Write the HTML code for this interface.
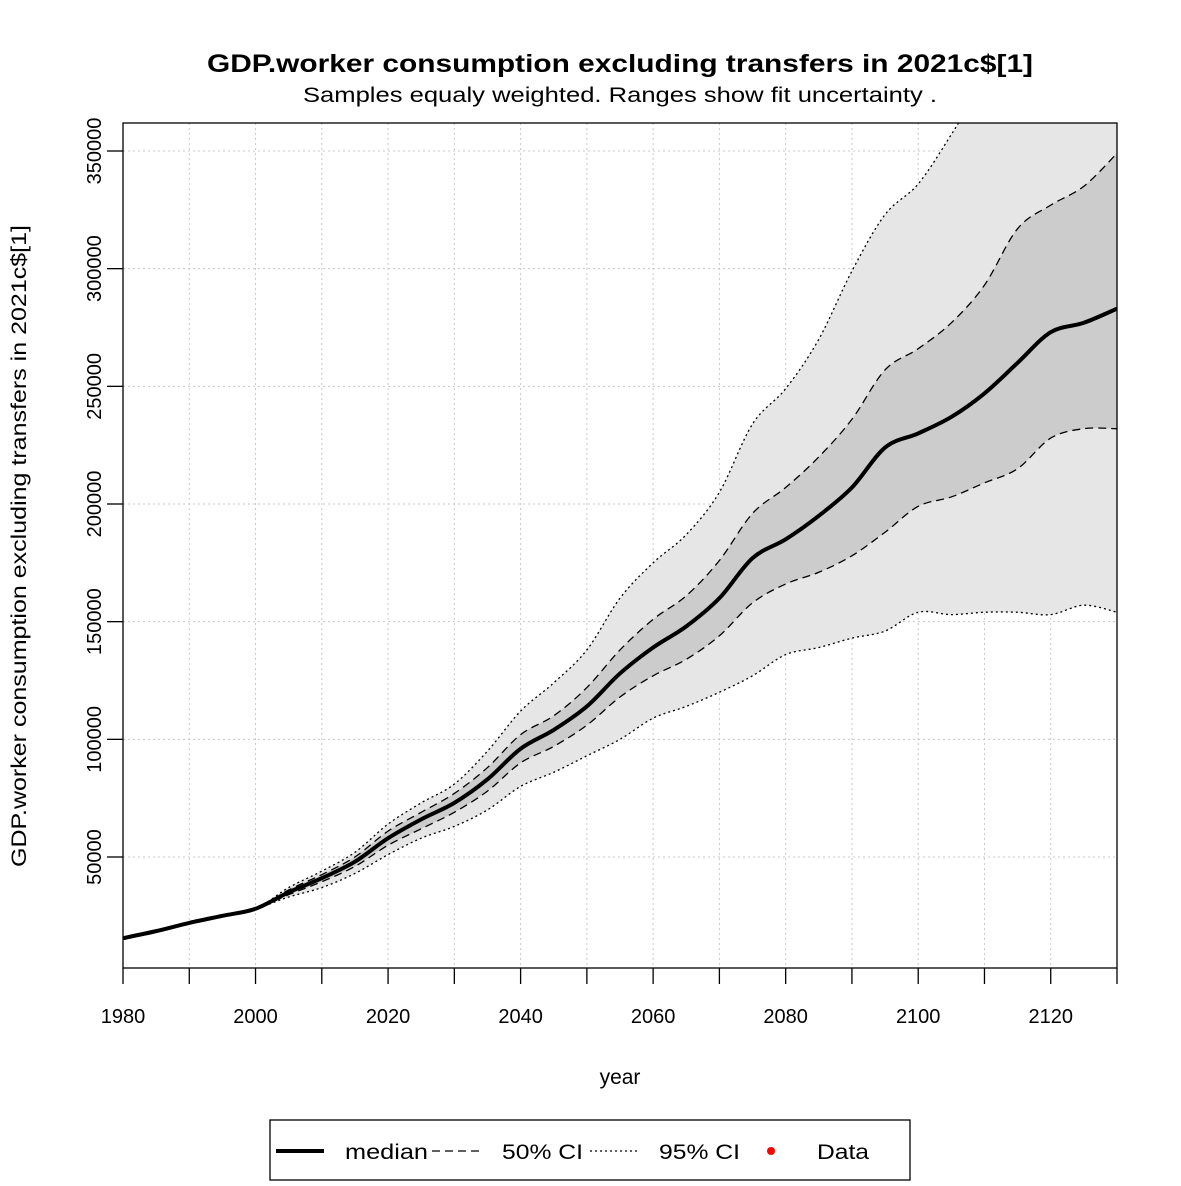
<!DOCTYPE html>
<html><head><meta charset="utf-8"><style>
body{margin:0;background:#fff}
svg{font-family:"Liberation Sans",sans-serif}
</style></head><body>
<svg id="chart" width="1181" height="1181" viewBox="0 0 1181 1181" xmlns="http://www.w3.org/2000/svg">
<rect width="1181" height="1181" fill="#fff"/>
<defs><clipPath id="pc"><rect x="123" y="123" width="994" height="845"/></clipPath></defs>
<g id="grid"></g>
<g clip-path="url(#pc)" id="bands"></g>
<rect x="123" y="123" width="994" height="845" fill="none" stroke="#000" stroke-width="1.3"/>
<g id="axes"></g>
<text x="620" y="72" text-anchor="middle" font-size="25" font-weight="bold" textLength="826" lengthAdjust="spacingAndGlyphs">GDP.worker consumption excluding transfers in 2021c$[1]</text>
<text x="620" y="102" text-anchor="middle" font-size="21" textLength="634" lengthAdjust="spacingAndGlyphs">Samples equaly weighted. Ranges show  fit uncertainty .</text>
<text x="620" y="1084" text-anchor="middle" font-size="21">year</text>
<text transform="translate(26,546) rotate(-90)" text-anchor="middle" font-size="21" textLength="642" lengthAdjust="spacingAndGlyphs">GDP.worker consumption excluding transfers in 2021c$[1]</text>
<g>
<rect x="270" y="1120" width="640" height="60" fill="none" stroke="#000" stroke-width="1.3"/>
<line x1="276" y1="1151" x2="324" y2="1151" stroke="#000" stroke-width="4"/>
<text x="345" y="1159" font-size="21" textLength="83" lengthAdjust="spacingAndGlyphs">median</text>
<line x1="432" y1="1151" x2="480" y2="1151" stroke="#000" stroke-width="1.3" stroke-dasharray="8,5"/>
<text x="502" y="1159" font-size="21" textLength="81" lengthAdjust="spacingAndGlyphs">50% CI</text>
<line x1="590" y1="1151" x2="638" y2="1151" stroke="#000" stroke-width="1.3" stroke-dasharray="2,3"/>
<text x="659" y="1159" font-size="21" textLength="81" lengthAdjust="spacingAndGlyphs">95% CI</text>
<circle cx="771" cy="1151" r="4" fill="#f00"/>
<text x="817" y="1159" font-size="21" textLength="52" lengthAdjust="spacingAndGlyphs">Data</text>
</g>
</svg>
<script>
const years=[1980,1985,1990,1995,2000,2005,2010,2015,2020,2025,2030,2035,2040,2045,2050,2055,2060,2065,2070,2075,2080,2085,2090,2095,2100,2105,2110,2115,2120,2125,2130];
const median=[15500,18500,22000,25000,28000,35000,41000,48000,58000,66000,73000,83000,96000,104000,114000,128000,139000,148000,160000,177000,185000,195000,207000,224000,230000,237000,247000,260000,273000,277000,283000];
const ci50Upper=[15500,18500,22000,25000,28000,36000,42500,50000,61000,69000,77000,88000,102000,110000,122000,138000,151000,161000,176000,196000,207000,220000,236000,257000,266000,277000,293000,317000,327000,335000,349000];
const ci50Lower=[15500,18500,22000,25000,28000,34000,39500,46000,55000,62000,69000,78000,90000,97000,106000,118000,127000,134000,144000,158000,166000,171000,178000,188000,199000,203000,209000,215000,228000,232000,232000];
const ci95Upper=[15500,18500,22000,25000,28000,37000,44000,52000,64000,73000,81000,95000,112000,124000,138000,160000,175000,187000,205000,234000,249000,270000,299000,323000,336000,357000,380000,400000,420000,440000,460000];
const ci95Lower=[15500,18500,22000,25000,28000,33000,37000,43000,51000,58000,63000,70000,80000,86000,93000,100000,109000,114000,120000,127000,136000,139000,143000,146000,154000,153000,154000,154000,153000,157000,154000];
const yTicks=[50000,100000,150000,200000,250000,300000,350000];
const xLabels=[1980,2000,2020,2040,2060,2080,2100,2120];
const NS='http://www.w3.org/2000/svg';
const X=v=>123+(v-1980)*994/150;
const Y=v=>857-(v-50000)*706/300000;
function el(t,a,p){const e=document.createElementNS(NS,t);for(const k in a)e.setAttribute(k,a[k]);p.appendChild(e);return e;}
const grid=document.getElementById('grid'),bands=document.getElementById('bands'),axes=document.getElementById('axes');
for(let yr=1980;yr<=2130;yr+=10){const l=el('line',{x1:X(yr),x2:X(yr),y1:123,y2:968,stroke:'#c8c8c8','stroke-dasharray':'2,3'},grid);

const t=el('line',{x1:X(yr),x2:X(yr),y1:968,y2:984,stroke:'#000','stroke-width':1.3},axes);
}
yTicks.forEach(v=>{const l=el('line',{x1:123,x2:1117,y1:Y(v),y2:Y(v),stroke:'#c8c8c8','stroke-dasharray':'2,3'},grid);

const t=el('line',{x1:107,x2:123,y1:Y(v),y2:Y(v),stroke:'#000','stroke-width':1.3},axes);

const tx=el('text',{transform:`translate(101,${Y(v)}) rotate(-90)`,'text-anchor':'middle','font-size':20},axes);tx.textContent=v;
});
xLabels.forEach(v=>{const tx=el('text',{x:X(v),y:1023,'text-anchor':'middle','font-size':20},axes);tx.textContent=v;
});
const P=a=>a.map((v,i)=>[X(years[i]),Y(v)]);
function curve(p,move){let d=(move?'M':'L')+p[0][0]+','+p[0][1];
for(let i=0;i<p.length-1;i++){const p0=p[Math.max(0,i-1)],p1=p[i],p2=p[i+1],p3=p[Math.min(p.length-1,i+2)];
const c1=[p1[0]+(p2[0]-p0[0])/6,p1[1]+(p2[1]-p0[1])/6],c2=[p2[0]-(p3[0]-p1[0])/6,p2[1]-(p3[1]-p1[1])/6];
d+=`C${c1[0]},${c1[1]} ${c2[0]},${c2[1]} ${p2[0]},${p2[1]}`;}return d;}
function band(up,lo,fill,name){const p=el('path',{d:curve(P(up),true)+curve(P(lo).reverse(),false)+'Z',fill:fill},bands);
}
band(ci95Upper,ci95Lower,'#e6e6e6','band-95ci');
band(ci50Upper,ci50Lower,'#cccccc','band-50ci');
function line(a,w,dash,name){const p=el('path',{d:curve(P(a),true),fill:'none',stroke:'#000','stroke-width':w,'stroke-linejoin':'round','stroke-dasharray':dash},bands);
}
line(ci95Upper,1.3,'2,3','line-95ci-upper');line(ci95Lower,1.3,'2,3','line-95ci-lower');
line(ci50Upper,1.3,'8,5','line-50ci-upper');line(ci50Lower,1.3,'8,5','line-50ci-lower');
line(median,4,'none','line-median');
</script>
</body></html>
